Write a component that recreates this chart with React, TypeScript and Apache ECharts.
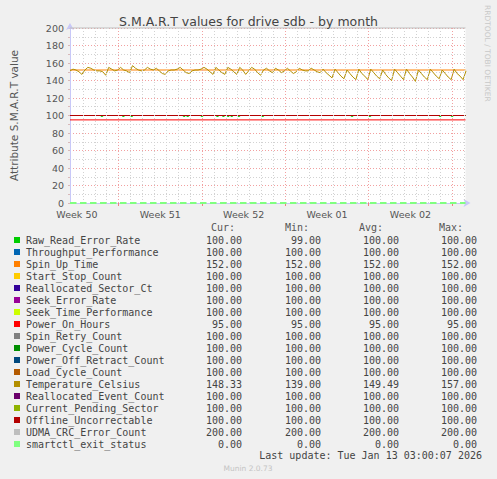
import React, { useEffect, useRef } from "react";
import * as echarts from "echarts";

const chartTitle = "S.M.A.R.T values for drive sdb - by month";
const yAxisTitle = "Attribute S.M.A.R.T value";
const sideText = "RRDTOOL / TOBI OETIKER";
const lastUpdate = "Last update: Tue Jan 13 03:00:07 2026";
const footerText = "Munin 2.0.73";

// x axis: days relative to the start of Week 51
const xMin = -4.08;
const xMax = 29.125;
const weekLabels = ["Week 50", "Week 51", "Week 52", "Week 01", "Week 02"];
const weekLabelDays = [-3.5, 3.5, 10.5, 17.5, 24.5];
const weekStartDays = [0, 7, 14, 21, 28];
const dayLineDays = [
  -3, -2, -1, 1, 2, 3, 4, 5, 6, 8, 9, 10, 11, 12, 13, 15, 16, 17, 18, 19, 20,
  22, 23, 24, 25, 26, 27, 29,
];

const seriesNames = [
  "Raw_Read_Error_Rate",
  "Throughput_Performance",
  "Spin_Up_Time",
  "Start_Stop_Count",
  "Reallocated_Sector_Ct",
  "Seek_Error_Rate",
  "Seek_Time_Performance",
  "Power_On_Hours",
  "Spin_Retry_Count",
  "Power_Cycle_Count",
  "Power_Off_Retract_Count",
  "Load_Cycle_Count",
  "Temperature_Celsius",
  "Reallocated_Event_Count",
  "Current_Pending_Sector",
  "Offline_Uncorrectable",
  "UDMA_CRC_Error_Count",
  "smartctl_exit_status",
];
const seriesColors = [
  "#00CC00", "#0066B3", "#FF8000", "#FFCC00", "#330099", "#990099",
  "#CCFF00", "#FF0000", "#808080", "#008F00", "#00487D", "#B35A00",
  "#B38F00", "#6B006B", "#8FB300", "#B30000", "#BEBEBE", "#80FF80",
];
const curValues = [100, 100, 152, 100, 100, 100, 100, 95, 100, 100, 100, 100, 148.33, 100, 100, 100, 200, 0];
const minValues = [99, 100, 152, 100, 100, 100, 100, 95, 100, 100, 100, 100, 139, 100, 100, 100, 200, 0];
const avgValues = [100, 100, 152, 100, 100, 100, 100, 95, 100, 100, 100, 100, 149.49, 100, 100, 100, 200, 0];
const maxValues = [100, 100, 152, 100, 100, 100, 100, 95, 100, 100, 100, 100, 157, 100, 100, 100, 200, 0];

// Raw_Read_Error_Rate briefly at 99 around these days
const rawReadDipDays = [-1.4, 0.4, 1.1, 5.5, 5.8, 7.0, 8.3, 8.8, 9.2, 9.5, 10.1, 12.1, 19.6, 21.1, 27.0, 28.0];

// Temperature samples every 6 hours from xMin
const tempStep = 0.25;
const temperature = [
  151, 153, 152, 150, 147, 152, 155, 154, 152, 151, 151, 150, 146, 155, 153, 151,
  152, 155, 152, 151, 149, 157, 154, 152, 151, 152, 155, 153, 152, 154, 151, 148,
  147, 151, 152, 152, 153, 155, 152, 149, 148, 151, 152, 152, 153, 155, 153, 150,
  147, 155, 152, 149, 147, 155, 153, 150, 147, 155, 152, 147, 151, 155, 153, 149,
  146, 152, 154, 151, 149, 154, 152, 149, 151, 154, 151, 148, 150, 154, 152, 151,
  151, 154, 152, 150, 149,
  153, 149, 146, 143, 153, 149, 145, 142, 152, 148, 144, 141, 153, 148, 145, 141,
  153, 149, 145, 142, 152, 147, 143, 140, 153, 149, 145, 141, 153, 148, 144, 139,
  152, 148, 144, 141, 153, 149, 145, 142, 152, 148, 144, 141, 153, 148, 145, 141,
  151,
];

const yMin = 0;
const yMax = 200;
const yInterval = 10;

const fmt = (v: number) => v.toFixed(2);

export default function App() {
  const ref = useRef<HTMLDivElement>(null);

  useEffect(() => {
    document.body.style.margin = "0";
    document.body.style.background = "#F0F0F0";
    if (!ref.current) return;
    const chart = echarts.init(ref.current, null, { renderer: "svg" });

    const buildData = (idx: number) => {
      const name = seriesNames[idx];
      if (name === "Temperature_Celsius") {
        return temperature.map((v, i) => [xMin + i * tempStep, v]);
      }
      if (name === "Raw_Read_Error_Rate") {
        const pts: number[][] = [[xMin, 100]];
        rawReadDipDays.forEach((d) => {
          pts.push([d - 0.07, 100], [d - 0.07, minValues[idx]], [d + 0.07, minValues[idx]], [d + 0.07, 100]);
        });
        pts.push([xMax, 100]);
        return pts;
      }
      return [
        [xMin, curValues[idx]],
        [xMax, curValues[idx]],
      ];
    };

    const dataSeries = seriesNames.map((name, idx) => {
      const isExit = name === "smartctl_exit_status";
      return {
        type: "line",
        name,
        data: buildData(idx),
        symbol: "none",
        clip: name !== "Temperature_Celsius" ? false : true,
        z: isExit ? 5 : 3,
        lineStyle: {
          color: seriesColors[idx],
          width: isExit ? 2 : 1,
          type: isExit ? [6.5, 3.5] : "solid",
        },
        itemStyle: { color: seriesColors[idx] },
        emphasis: { disabled: true },
      };
    });

    const gridSeries = {
      type: "line",
      name: "_grid",
      data: [],
      z: 1,
      silent: true,
      markLine: {
        silent: true,
        symbol: ["none", "none"],
        label: { show: false },
        emphasis: { disabled: true },
        data: [
          ...dayLineDays.map((d) => ({
            xAxis: d,
            lineStyle: { color: "#D2D2D2", type: [1, 2], width: 1 },
          })),
          ...weekStartDays.map((d) => ({
            xAxis: d,
            lineStyle: { color: "#F2A0A0", type: [1, 2], width: 1 },
          })),
        ],
      },
    };

    const mono = '"DejaVu Sans Mono", monospace';
    const legendTop = 240;
    const rowH = 12;
    const colRight = [242, 321, 399, 477];
    const headers = ["Cur:", "Min:", "Avg:", "Max:"];
    const headerRight = [235, 309, 383, 463];
    const cols = [curValues, minValues, avgValues, maxValues];

    const graphics: any[] = [];
    headers.forEach((h, c) => {
      graphics.push({
        type: "text",
        x: headerRight[c],
        y: 227,
        silent: true,
        style: { text: h, fill: "#555", fontFamily: mono, fontSize: 10, textAlign: "right", textVerticalAlign: "middle" },
      });
    });
    seriesNames.forEach((name, k) => {
      const cy = legendTop + k * rowH;
      graphics.push({
        type: "rect",
        silent: true,
        shape: { x: 14, y: cy - 3, width: 6, height: 6 },
        style: { fill: seriesColors[k] },
      });
      graphics.push({
        type: "text",
        x: 26,
        y: cy,
        silent: true,
        style: { text: name, fill: "#444", fontFamily: mono, fontSize: 10, textAlign: "left", textVerticalAlign: "middle" },
      });
      cols.forEach((arr, c) => {
        graphics.push({
          type: "text",
          x: colRight[c],
          y: cy,
          silent: true,
          style: { text: fmt(arr[k]), fill: "#444", fontFamily: mono, fontSize: 10, textAlign: "right", textVerticalAlign: "middle" },
        });
      });
    });
    graphics.push({
      type: "text",
      x: 482,
      y: 455,
      silent: true,
      style: { text: lastUpdate, fill: "#444", fontFamily: mono, fontSize: 10, textAlign: "right", textVerticalAlign: "middle" },
    });
    graphics.push({
      type: "text",
      x: 248,
      y: 468,
      silent: true,
      style: { text: footerText, fill: "#C4C4C4", fontFamily: "DejaVu Sans", fontSize: 7.5, textAlign: "center", textVerticalAlign: "middle" },
    });
    graphics.push({
      type: "text",
      x: 487,
      y: 5,
      rotation: -Math.PI / 2,
      silent: true,
      style: { text: sideText, fill: "#C8C8C8", fontFamily: "DejaVu Sans", fontSize: 7.5, textAlign: "left", textVerticalAlign: "middle" },
    });

    const option: any = {
      animation: false,
      backgroundColor: "#F0F0F0",
      textStyle: { fontFamily: "DejaVu Sans" },
      title: {
        text: chartTitle,
        left: "center",
        top: 10,
        textStyle: { fontSize: 12.5, fontWeight: "normal", color: "#444", fontFamily: "DejaVu Sans" },
      },
      grid: {
        left: 67,
        right: 31.5,
        top: 28,
        bottom: 276,
        show: true,
        backgroundColor: "#FFFFFF",
        borderWidth: 0,
      },
      xAxis: {
        type: "value",
        min: xMin,
        max: xMax,
        axisLine: {
          show: true,
          onZero: false,
          lineStyle: { color: "#C8C8F8", width: 1 },
          symbol: ["none", "arrow"],
          symbolSize: [6, 7],
          symbolOffset: [0, 5],
        },
        axisTick: {
          show: true,
          customValues: weekStartDays,
          length: 3,
          lineStyle: { color: "#F08080" },
        },
        axisLabel: {
          customValues: weekLabelDays,
          formatter: (v: number) => {
            const i = weekLabelDays.findIndex((w) => Math.abs(w - v) < 1e-6);
            return i >= 0 ? weekLabels[i] : "";
          },
          color: "#555",
          fontSize: 9.5,
          margin: 6,
        },
        splitLine: { show: false },
      },
      yAxis: {
        type: "value",
        min: yMin,
        max: yMax,
        interval: yInterval,
        name: yAxisTitle,
        nameLocation: "middle",
        nameGap: 51,
        nameTextStyle: { color: "#555", fontSize: 10.5 },
        axisLine: {
          show: true,
          onZero: false,
          lineStyle: { color: "#C8C8F8", width: 1 },
          symbol: ["none", "arrow"],
          symbolSize: [6, 7],
          symbolOffset: [0, 5],
        },
        axisTick: { show: true, length: 2, lineStyle: { color: "#D8B8B8" } },
        axisLabel: {
          formatter: (v: number) => (v % 20 === 0 ? String(v) : ""),
          color: "#555",
          fontSize: 9.5,
          margin: 6,
        },
        splitLine: {
          show: true,
          lineStyle: { color: ["#F2A0A0", "#D2D2D2"], type: [1, 2], width: 1 },
        },
      },
      series: [gridSeries, ...dataSeries],
      graphic: graphics,
    };

    chart.setOption(option);
    return () => chart.dispose();
  }, []);

  return <div ref={ref} style={{ width: 497, height: 479 }} />;
}
